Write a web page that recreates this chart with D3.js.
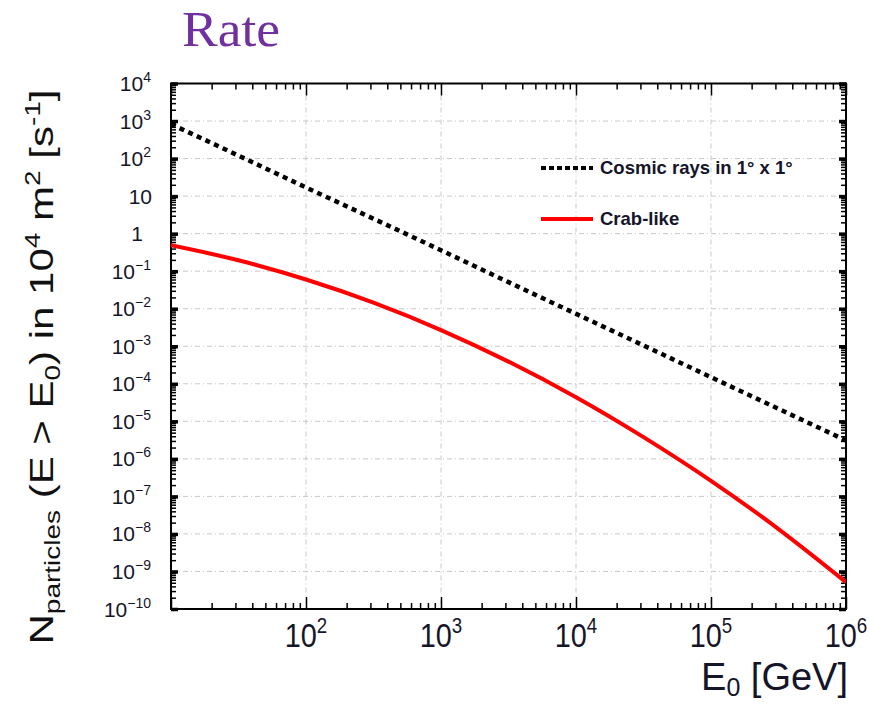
<!DOCTYPE html>
<html>
<head>
<meta charset="utf-8">
<script src="https://cdn.jsdelivr.net/npm/d3@7"></script>
<style>
  html, body { margin: 0; padding: 0; background: #fff; }
  svg { display: block; }
</style>
</head>
<body>
<svg id="chart" width="870" height="706"></svg>
<script>
// ---- data ----
const energies = [10, 31.6, 100, 316, 1000, 3162, 10000, 31623, 100000, 316228, 1000000];
const cosmicRays = [830, 120, 17, 2.5, 0.36, 0.051, 7.3e-3, 1.05e-3, 1.5e-4, 2.15e-5, 3.1e-6];
const crabLike = [0.49, 0.195, 0.060, 0.0145, 2.7e-3, 3.9e-4, 4.4e-5, 3.8e-6, 2.6e-7, 1.35e-8, 5.2e-10];
const seriesNames = ["Cosmic rays in 1\u00b0 x 1\u00b0", "Crab-like"];
const xTickExps = [2, 3, 4, 5, 6];
const yTickExps = [4, 3, 2, 1, 0, -1, -2, -3, -4, -5, -6, -7, -8, -9, -10];
const titleText = "Rate";

// ---- layout ----
const svg = d3.select("#chart");
const L = 171, R = 846, T = 83.5, B = 609;
const x = d3.scaleLog().domain([10, 1e6]).range([L, R]);
const y = d3.scaleLog().domain([1e-10, 1e4]).range([B, T]);

// title
svg.append("text").attr("transform", "translate(182,46) scale(1.07,1)")
  .attr("font-family", "Liberation Serif, Times New Roman, serif")
  .attr("font-size", 50).attr("fill", "#7030A0").text(titleText);

// grid
const gridColor = "#c8c8c8";
const g = svg.append("g");
g.selectAll(".hg").data(yTickExps.filter(e => e < 4 && e > -10)).enter().append("line")
  .attr("x1", L).attr("x2", R)
  .attr("y1", e => y(Math.pow(10, e))).attr("y2", e => y(Math.pow(10, e)))
  .attr("stroke", gridColor).attr("stroke-width", 1).attr("stroke-dasharray", "5,3,1,3");
g.selectAll(".vg").data(xTickExps.filter(e => e < 6)).enter().append("line")
  .attr("y1", T).attr("y2", B)
  .attr("x1", e => x(Math.pow(10, e))).attr("x2", e => x(Math.pow(10, e)))
  .attr("stroke", gridColor).attr("stroke-width", 1).attr("stroke-dasharray", "5,3,1,3");

// ticks via axes (inside, all four sides)
const xMajor = [10, 100, 1e3, 1e4, 1e5, 1e6];
const xMinor = [];
for (let d = 10; d < 1e6; d *= 10) for (let k = 2; k <= 9; k++) xMinor.push(d * k);
const yMajor = yTickExps.map(e => Math.pow(10, e));
const yMinor = [];
for (let e = -10; e < 4; e++) for (let k = 2; k <= 9; k++) yMinor.push(Math.pow(10, e) * k);

function styleAxis(sel, w) {
  sel.select(".domain").remove();
  sel.selectAll(".tick line").attr("stroke", "#000").attr("stroke-width", w);
  sel.selectAll(".tick text").remove();
}
const axG = svg.append("g");
[[B, d3.axisBottom], [T, d3.axisTop]].forEach(([pos, ax]) => {
  axG.append("g").attr("transform", `translate(0,${pos})`)
    .call(ax(x).tickValues(xMinor).tickSize(-6).tickFormat("")).call(s => styleAxis(s, 1.5));
  axG.append("g").attr("transform", `translate(0,${pos})`)
    .call(ax(x).tickValues(xMajor).tickSize(-12).tickFormat("")).call(s => styleAxis(s, 1.5));
});
[[L, d3.axisLeft], [R, d3.axisRight]].forEach(([pos, ax]) => {
  axG.append("g").attr("transform", `translate(${pos},0)`)
    .call(ax(y).tickValues(yMinor).tickSize(-5).tickFormat("")).call(s => styleAxis(s, 1.5));
  axG.append("g").attr("transform", `translate(${pos},0)`)
    .call(ax(y).tickValues(yMajor).tickSize(-7).tickFormat("")).call(s => styleAxis(s, 3.5));
});

// frame
svg.append("rect").attr("x", L).attr("y", T).attr("width", R - L).attr("height", B - T)
  .attr("fill", "none").attr("stroke", "#000").attr("stroke-width", 2);

// clip
svg.append("clipPath").attr("id", "clip").append("rect")
  .attr("x", L).attr("y", T).attr("width", R - L).attr("height", B - T);

const line = d3.line().x(d => x(d[0])).y(d => y(d[1])).curve(d3.curveMonotoneX);
const plot = svg.append("g").attr("clip-path", "url(#clip)");
plot.append("path").datum(energies.map((e, i) => [e, cosmicRays[i]]))
  .attr("d", line).attr("fill", "none").attr("stroke", "#000")
  .attr("stroke-width", 4.5).attr("stroke-dasharray", "5,4.5");
plot.append("path").datum(energies.map((e, i) => [e, crabLike[i]]))
  .attr("d", line).attr("fill", "none").attr("stroke", "#ff0000")
  .attr("stroke-width", 4);

// y tick labels
const labFont = "Liberation Sans, Arial, Helvetica, sans-serif";
const yl = svg.append("g").attr("font-family", labFont).attr("fill", "#15152a");
yTickExps.forEach(e => {
  const t = yl.append("text").attr("x", 151).attr("y", y(Math.pow(10, e)) + 7.5)
    .attr("text-anchor", "end").attr("font-size", 21);
  if (e === 0) { t.attr("x", 143).text("1"); }
  else if (e === 1) { t.attr("x", 152).text("10"); }
  else {
    t.append("tspan").text("10");
    t.append("tspan").attr("font-size", 14).attr("dy", -9).text(e < 0 ? "\u2212" + (-e) : String(e));
  }
});

// x tick labels
const xl = svg.append("g").attr("font-family", labFont).attr("fill", "#15152a");
xTickExps.forEach(e => {
  const t = xl.append("text")
    .attr("transform", `translate(${x(Math.pow(10, e))},647) scale(0.85,1)`)
    .attr("text-anchor", "middle").attr("font-size", 34);
  t.append("tspan").text("10");
  t.append("tspan").attr("font-size", 22).attr("dy", -14).text(String(e));
});

// x axis title
const xt = svg.append("text").attr("transform", "translate(848,690)")
  .attr("text-anchor", "end").attr("font-family", labFont).attr("font-size", 38).attr("fill", "#15152a");
xt.append("tspan").text("E");
xt.append("tspan").attr("font-size", 25).attr("dy", 6).text("0");
xt.append("tspan").attr("dy", -6).text(" [GeV]");

// y axis title
const yt = svg.append("text").attr("transform", "translate(53,367) rotate(-90) scale(1,0.8)")
  .attr("text-anchor", "middle").attr("font-family", labFont).attr("font-size", 42).attr("fill", "#111");
yt.append("tspan").text("N");
yt.append("tspan").attr("font-size", 28).attr("dy", 9).text("particles");
yt.append("tspan").attr("dy", -9).text(" (E > E");
yt.append("tspan").attr("font-size", 28).attr("dy", 9).text("0");
yt.append("tspan").attr("dy", -9).text(") in 10");
yt.append("tspan").attr("font-size", 28).attr("dy", -16).text("4");
yt.append("tspan").attr("dy", 16).text(" m");
yt.append("tspan").attr("font-size", 28).attr("dy", -16).text("2");
yt.append("tspan").attr("dy", 16).text(" [s");
yt.append("tspan").attr("font-size", 28).attr("dy", -16).text("-1");
yt.append("tspan").attr("dy", 16).text("]");

// legend
const leg = svg.append("g").attr("font-family", labFont).attr("font-weight", "bold").attr("font-size", 18.5).attr("fill", "#15152a");
const legY = [168, 219];
const legStyles = [{ stroke: "#000", dash: "5,3" }, { stroke: "#ff0000", dash: null }];
seriesNames.forEach((n, i) => {
  leg.append("line").attr("x1", 541).attr("x2", 593).attr("y1", legY[i]).attr("y2", legY[i])
    .attr("stroke", legStyles[i].stroke).attr("stroke-width", 4)
    .attr("stroke-dasharray", legStyles[i].dash);
  leg.append("text").attr("x", 600).attr("y", legY[i] + 6).text(n);
});
</script>
</body>
</html>
